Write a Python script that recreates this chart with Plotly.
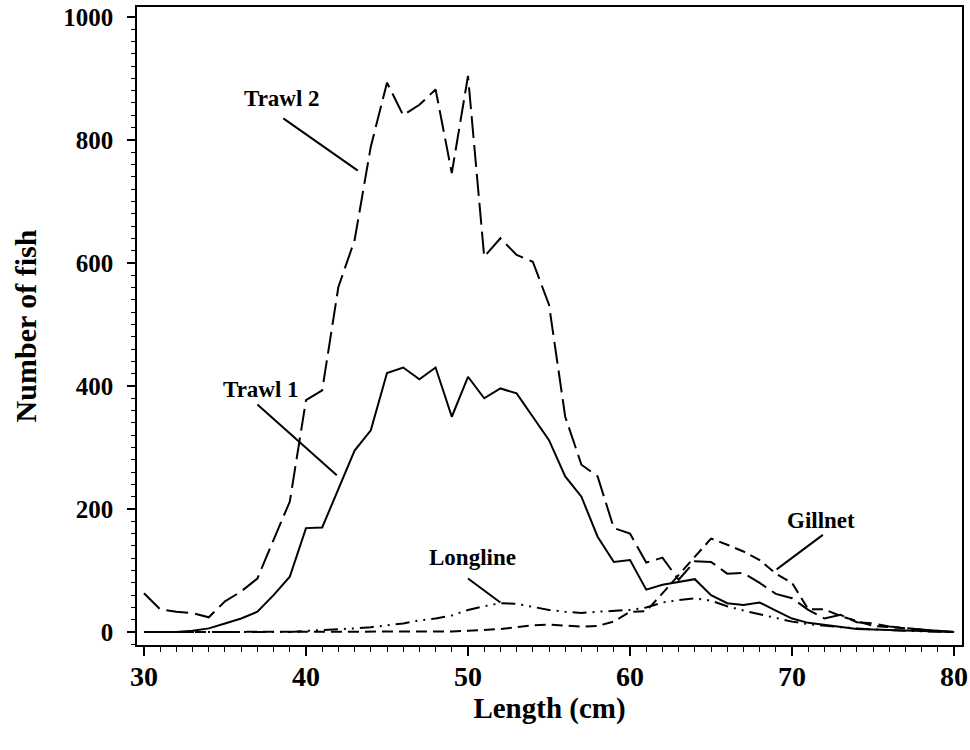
import plotly.graph_objects as go

# Length classes (cm)
length = list(range(30, 81))

# Catch at length by gear type
trawl1 = [0, 0, 0, 2, 6, 14, 22, 33, 60, 90,
          169, 170, 232, 295, 328, 421, 430, 411, 430, 350,
          415, 380, 396, 388, 350, 312, 253, 220, 155, 114,
          117, 69, 77, 81, 86, 60, 47, 44, 48, 35,
          22, 15, 12, 8, 5, 4, 3, 2, 1, 1, 0]
trawl2 = [63, 37, 33, 31, 24, 50, 66, 87, 150, 212,
          377, 393, 561, 637, 789, 893, 840, 857, 882, 746,
          904, 610, 640, 613, 602, 532, 350, 272, 253, 169,
          160, 113, 121, 85, 115, 114, 95, 96, 80, 62,
          55, 36, 22, 28, 16, 14, 9, 6, 4, 2, 0]
gillnet = [0, 0, 0, 0, 0, 0, 0, 0, 0, 0,
           0, 0, 0, 0, 0, 0, 0, 0, 1, 1,
           2, 3, 5, 8, 11, 12, 10, 9, 10, 17,
           33, 34, 63, 93, 122, 152, 142, 131, 117, 95,
           80, 37, 37, 26, 18, 10, 8, 6, 4, 2, 0]
longline = [0, 0, 0, 0, 0, 0, 0, 0, 0, 0,
            2, 3, 4, 6, 8, 11, 14, 19, 22, 27,
            36, 42, 47, 46, 41, 36, 33, 31, 33, 35,
            36, 40, 48, 52, 55, 51, 42, 35, 29, 22,
            17, 13, 10, 8, 6, 4, 3, 2, 1, 1, 0]

series = [
    ("Trawl 1", trawl1, "solid"),
    ("Trawl 2", trawl2, "22px,7px"),
    ("Gillnet", gillnet, "11px,6px"),
    ("Longline", longline, "14px,6px,2px,6px,2px,6px"),
]

# Label text position and leader line end points (data units)
labels = [
    ("Trawl 2", 38.5, 867, 38.6, 835, 43.2, 750),
    ("Trawl 1", 37.25, 395, 37.0, 370, 41.9, 255),
    ("Longline", 50.3, 122, 50.0, 87, 52.0, 48),
    ("Gillnet", 71.8, 181, 71.9, 158, 69.05, 102),
]

FONT = "Liberation Serif"

fig = go.Figure()
for name, vals, dash in series:
    fig.add_trace(go.Scatter(
        x=length, y=vals, mode="lines", name=name,
        line=dict(color="black", width=2, dash=dash),
        hoverinfo="x+y+name",
    ))

for text, tx, ty, x0, y0, x1, y1 in labels:
    fig.add_annotation(
        x=tx, y=ty, xref="x", yref="y", text=text, showarrow=False,
        font=dict(family=FONT, size=23, color="black", weight="bold"),
    )
    fig.add_shape(
        type="line", xref="x", yref="y", x0=x0, y0=y0, x1=x1, y1=y1,
        line=dict(color="black", width=2),
    )

fig.update_layout(
    width=970, height=750,
    margin=dict(l=137, r=8, t=7, b=105),
    paper_bgcolor="white", plot_bgcolor="white",
    showlegend=False,
    font=dict(family=FONT, color="black"),
)

fig.update_xaxes(
    range=[29.57, 80.49], automargin=False,
    tickmode="array", tickvals=[30, 40, 50, 60, 70, 80],
    ticks="outside", ticklen=9, tickwidth=1.5, tickcolor="black",
    ticklabelstandoff=-3,
    minor=dict(dtick=1, tick0=30, ticks="outside", ticklen=5,
               tickwidth=1.2, tickcolor="black"),
    showline=True, linecolor="black", linewidth=1.5, mirror=True,
    showgrid=False, zeroline=False,
    tickfont=dict(family=FONT, size=28, color="black", weight="bold"),
    title=dict(text="Length (cm)", standoff=6,
               font=dict(family=FONT, size=29, color="black", weight="bold")),
)

fig.update_yaxes(
    range=[-21, 1016], automargin=False,
    tickmode="array", tickvals=[0, 200, 400, 600, 800, 1000],
    ticks="outside", ticklen=8, tickwidth=1.5, tickcolor="black",
    ticklabelstandoff=9,
    minor=dict(dtick=20, tick0=0, ticks="outside", ticklen=4,
               tickwidth=1.2, tickcolor="black"),
    showline=True, linecolor="black", linewidth=1.5, mirror=True,
    showgrid=False, zeroline=False,
    tickfont=dict(family=FONT, size=25, color="black", weight="bold"),
    title=dict(text="Number of fish", standoff=18,
               font=dict(family=FONT, size=30, color="black", weight="bold")),
)

fig.write_html("out.html")
